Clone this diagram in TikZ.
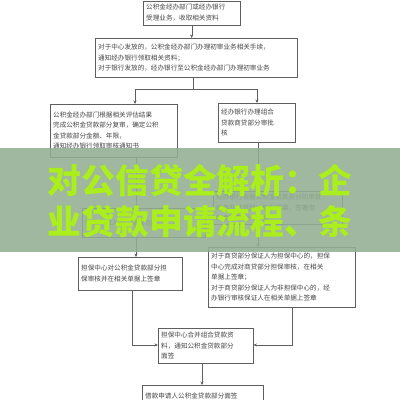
\documentclass[tikz,border=0pt]{standalone}
\usepackage{fontspec}
\newfontfamily\cjk{Noto Sans CJK SC}
\usetikzlibrary{arrows.meta}

\definecolor{boxline}{RGB}{95,95,95}
\definecolor{boxtext}{RGB}{70,70,70}
\definecolor{bannerfill}{RGB}{146,174,146}
\definecolor{bannertext}{RGB}{170,238,28}

\tikzset{
  flowbox/.style={draw=boxline, fill=white, anchor=north west, inner sep=3pt,
    align=left, text=boxtext, font=\cjk\fontsize{6.6}{10.5}\selectfont},
  flowarrow/.style={draw=boxline, -{Stealth[length=3.5pt,width=3pt]}},
  flowline/.style={draw=boxline},
}

\begin{document}
\begin{tikzpicture}[x=1pt,y=-1pt]
\useasboundingbox (0,0) rectangle (400,400);

% 受理
\node[flowbox, minimum width=97pt, minimum height=24pt, text width=91pt] (accept) at (143,0.5)
  {公积金经办部门或经办银行\\受理业务，收取相关资料};
% 初审
\node[flowbox, minimum width=202pt, minimum height=39pt, text width=196pt] (first) at (95,38)
  {对于中心发放的，公积金经办部门办理初审业务相关手续，\\通知经办银行领取相关资料；\\对于银行发放的，经办银行至公积金经办部门办理初审业务};

% 复审(左) / 商贷审批(右)
\node[flowbox, minimum width=127pt, minimum height=53pt, text width=121pt] (review) at (50,104)
  {公积金经办部门根据相关评估结果\\完成公积金贷款部分复审，确定公积\\金贷款部分金额、年限，\\通知经办银行领取审核通知书};
\node[flowbox, minimum width=77pt, minimum height=39pt, text width=71pt] (bank) at (218,103)
  {经办银行办理组合\\贷款商贷部分审批\\核};

% 帯の下に隠れている枠
\node[flowbox, minimum width=123pt, minimum height=29pt, text width=117pt] (sign) at (82,208)
  {借款申请人签订借款合同};
\node[flowbox, minimum width=129pt, minimum height=31pt, text width=123pt] (contract) at (213,191)
  {经办银行根据公积金贷款部分的审批\\结果及商贷部分审批结果，签署借\\款合同等相关单据};

% 担保
\node[flowbox, minimum width=104pt, minimum height=33pt, text width=98pt] (guarL) at (78,257)
  {担保中心对公积金贷款部分担\\保审核并在相关单据上签章};
\node[flowbox, minimum width=147pt, minimum height=60pt, text width=141pt] (guarR) at (208,247)
  {对于商贷部分保证人为担保中心的，担保\\中心完成对商贷部分担保审核，在相关\\单据上签章；\\对于商贷部分保证人为非担保中心的，经\\办银行审核保证人在相关单据上签章};

% 合并・面签
\node[flowbox, minimum width=95pt, minimum height=35pt, text width=89pt] (merge) at (158,328)
  {担保中心合并组合贷款资\\料，通知公积金贷款部分\\面签};
\node[flowbox, minimum width=121pt, minimum height=22pt, text width=115pt] (face) at (142,385)
  {借款申请人公积金贷款部分面签};

% 矢印
\draw[flowarrow] (accept.south) -- (accept.south |- first.north);
\coordinate (split) at (193,89);
\draw[flowline] (first.south -| split) -- (split);
\draw[flowline] (135,89) -- (257,89);
\draw[flowarrow] (135,89) -- (135,104);
\draw[flowarrow] (257,89) -- (257,103);
\draw[flowarrow] (review.south -| 136,0) -- (136,208);
\draw[flowarrow] (bank.south -| 258,0) -- (258,191);
\draw[flowarrow] (sign.south -| 136,0) -- (136,257);
\draw[flowarrow] (contract.south -| 258,0) -- (258,247);
\draw[flowarrow] (guarL.south -| 132,0) -- (132,345) -- (merge.west |- 0,345);
\draw[flowarrow] (guarR.south -| 292,0) -- (292,345) -- (merge.east |- 0,345);
\draw[flowarrow] (merge.south -| 202,0) -- (face.north -| 202,0);

% 帯とタイトル
\fill[bannerfill, opacity=0.88] (0,148) rectangle (400,252);
\node[text=bannertext, font=\cjk\bfseries\fontsize{33.8}{40}\selectfont, inner sep=0pt] (title1) at (200,181)
  {对公信贷全解析：企};
\node[text=bannertext, font=\cjk\bfseries\fontsize{33.8}{40}\selectfont, inner sep=0pt] (title2) at (200,222)
  {业贷款申请流程、条};
\end{tikzpicture}
\end{document}
